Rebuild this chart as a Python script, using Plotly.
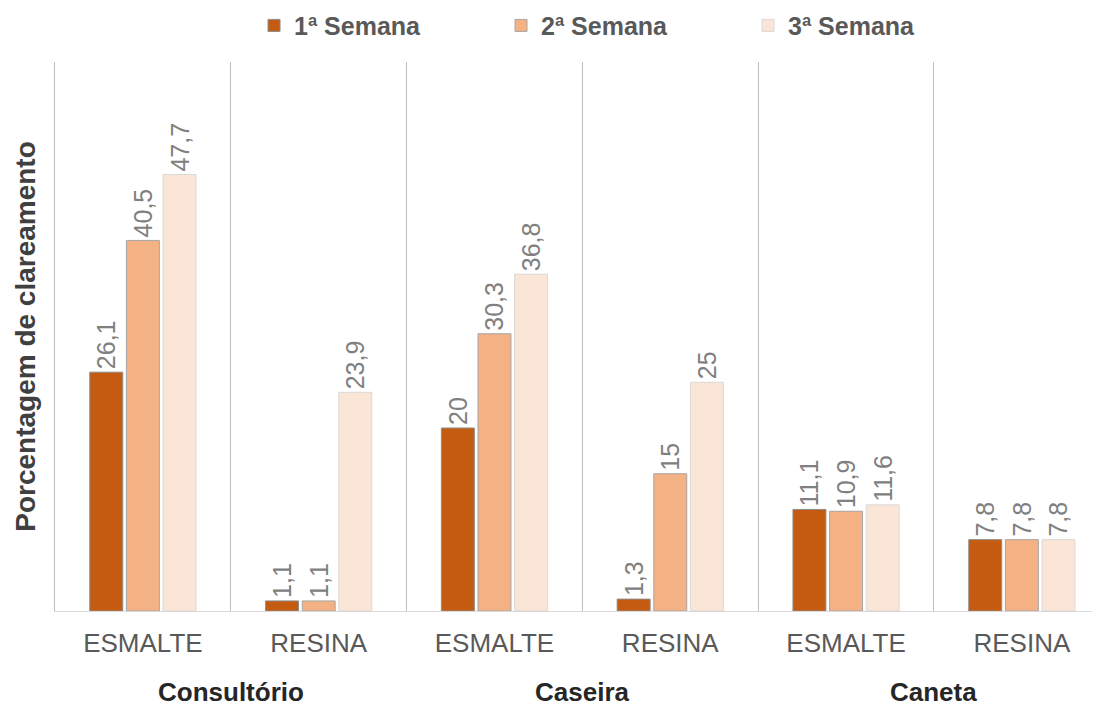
import plotly.graph_objects as go

groups = ["Consultório", "Consultório", "Caseira", "Caseira", "Caneta", "Caneta"]
materials = ["ESMALTE", "RESINA", "ESMALTE", "RESINA", "ESMALTE", "RESINA"]

semana_1 = [26.1, 1.1, 20, 1.3, 11.1, 7.8]
semana_2 = [40.5, 1.1, 30.3, 15, 10.9, 7.8]
semana_3 = [47.7, 23.9, 36.8, 25, 11.6, 7.8]

series = [
    ("1ª Semana", semana_1, "#C55A11", "#8c8c8c"),
    ("2ª Semana", semana_2, "#F4B183", "#a6a6a6"),
    ("3ª Semana", semana_3, "#FBE5D6", "#d9d9d9"),
]

categories = [f"{g}|{m}" for g, m in zip(groups, materials)]

fig = go.Figure()
for name, values, color, edge in series:
    fig.add_trace(
        go.Bar(
            x=categories,
            y=values,
            name=f"<b>{name}</b>",
            marker=dict(color=color, line=dict(color=edge, width=1)),
            text=[f"{v:g}".replace(".", ",") for v in values],
            textposition="outside",
            textangle=-90,
            constraintext="none",
            textfont=dict(size=25, color="#808080"),
            cliponaxis=False,
        )
    )

# group names centred under their pair of categories
for g in dict.fromkeys(groups):
    idx = [i for i, name in enumerate(groups) if name == g]
    fig.add_annotation(
        x=sum(idx) / len(idx),
        xref="x",
        y=-0.1475,
        yref="paper",
        yanchor="middle",
        text=f"<b>{g}</b>",
        showarrow=False,
        font=dict(size=26, color="#262626"),
    )

fig.update_layout(
    width=1100,
    height=706,
    barmode="group",
    bargap=0.375,
    bargroupgap=0.1,
    plot_bgcolor="white",
    paper_bgcolor="white",
    font=dict(family="Liberation Sans, Arial, sans-serif", color="#595959"),
    margin=dict(l=47, r=0, t=54, b=103, autoexpand=False),
    legend=dict(
        orientation="h",
        x=0.189,
        xanchor="left",
        y=0.975,
        yref="container",
        yanchor="middle",
        font=dict(size=25, color="#595959"),
        entrywidth=202,
        entrywidthmode="pixels",
        itemwidth=30,
        traceorder="normal",
    ),
    showlegend=True,
)

fig.update_xaxes(
    type="category",
    tickvals=categories,
    ticktext=materials,
    range=[-0.5, 5.49],
    tickson="boundaries",
    showgrid=True,
    gridcolor="#bfbfbf",
    gridwidth=1,
    showline=True,
    linecolor="#d9d9d9",
    linewidth=1,
    ticks="",
    ticklabelstandoff=9,
    automargin=False,
    tickfont=dict(size=26, color="#595959"),
)
fig.update_yaxes(
    range=[0, 60],
    showticklabels=False,
    showgrid=False,
    zeroline=False,
    showline=True,
    linecolor="#bfbfbf",
    linewidth=1,
    automargin=False,
    title=dict(
        text="<b>Porcentagem de clareamento</b>",
        font=dict(size=28, color="#404040"),
        standoff=10,
    ),
)

fig.write_html("out.html")
